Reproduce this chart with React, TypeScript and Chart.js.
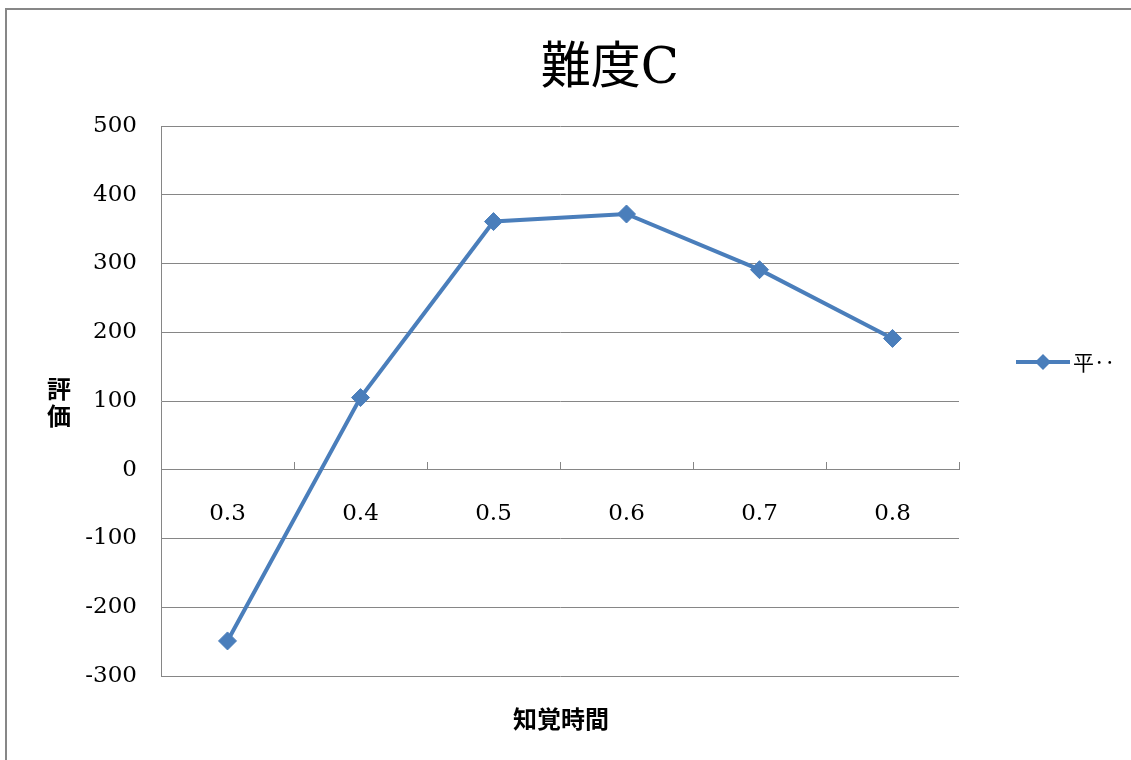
import React, { useEffect, useRef } from 'react';
import { Chart, registerables } from 'chart.js';

Chart.register(...registerables);

// ---- data ----
const TITLE = '難度C';
const X_TITLE = '知覚時間';
const Y_TITLE_CHARS = ['評', '価'];
const SERIES_LABEL = '平‥';
const categories = ['0.3', '0.4', '0.5', '0.6', '0.7', '0.8'];
const values = [-249, 105, 361, 372, 291, 191];
const Y_MIN = -300;
const Y_MAX = 500;
const Y_STEP = 100;

const LINE_COLOR = '#4A7EBB';
const GRID_COLOR = '#868686';
const SERIF = "'DejaVu Serif', 'Noto Sans CJK JP', serif";
const CJK = "'Noto Sans CJK JP', sans-serif";

const W = 1131;
const H = 760;

const decorPlugin = {
  id: 'decor',
  beforeDraw(chart: any) {
    const ctx = chart.ctx;
    ctx.save();
    ctx.fillStyle = '#ffffff';
    ctx.fillRect(0, 0, chart.width, chart.height);
    ctx.strokeStyle = '#878787';
    ctx.lineWidth = 2;
    ctx.strokeRect(6, 9, chart.width + 100, chart.height + 100);
    ctx.restore();
  },
  afterDraw(chart: any) {
    const ctx = chart.ctx;
    const area = chart.chartArea;
    ctx.save();
    // title
    ctx.fillStyle = '#000';
    ctx.textBaseline = 'middle';
    ctx.textAlign = 'center';
    ctx.font = `50px ${SERIF}`;
    ctx.fillText(TITLE, 610, 70);
    // x title
    ctx.font = `bold 24px ${CJK}`;
    ctx.fillText(X_TITLE, (area.left + area.right) / 2 + 1, 719);
    // y title (upright stacked)
    ctx.font = `bold 24px ${CJK}`;
    Y_TITLE_CHARS.forEach((c, i) => ctx.fillText(c, 59, 389 + i * 27));
    // legend
    const ds = chart.data.datasets[0];
    const ly = 362;
    ctx.strokeStyle = ds.borderColor;
    ctx.lineWidth = 4;
    ctx.beginPath();
    ctx.moveTo(1016, ly);
    ctx.lineTo(1070, ly);
    ctx.stroke();
    ctx.fillStyle = ds.pointBackgroundColor;
    ctx.beginPath();
    const r = 8;
    ctx.moveTo(1043, ly - r);
    ctx.lineTo(1043 + r, ly);
    ctx.lineTo(1043, ly + r);
    ctx.lineTo(1043 - r, ly);
    ctx.closePath();
    ctx.fill();
    ctx.fillStyle = '#000';
    ctx.textAlign = 'left';
    ctx.font = `21px ${CJK}`;
    ctx.fillText(ds.label, 1073, ly);
    ctx.restore();
  },
};

export default function App() {
  const ref = useRef<HTMLCanvasElement | null>(null);

  useEffect(() => {
    document.body.style.margin = '0';
    document.body.style.overflow = 'hidden';
    const canvas = ref.current;
    if (!canvas) return;
    const chart = new Chart(canvas, {
      type: 'line',
      data: {
        labels: categories,
        datasets: [
          {
            label: SERIES_LABEL,
            data: values,
            borderColor: LINE_COLOR,
            backgroundColor: LINE_COLOR,
            borderWidth: 4,
            tension: 0,
            pointStyle: 'rectRot',
            pointRadius: 9,
            pointBackgroundColor: LINE_COLOR,
            pointBorderColor: LINE_COLOR,
            pointBorderWidth: 1,
            clip: false as any,
          },
        ],
      },
      options: {
        responsive: false,
        animation: false,
        devicePixelRatio: 1,
        layout: { padding: { left: 60, top: 126, right: 172, bottom: 84 } },
        plugins: {
          legend: { display: false },
          title: { display: false },
          tooltip: { enabled: false },
        },
        scales: {
          x: {
            type: 'category',
            position: { y: 0 } as any,
            offset: true,
            grid: {
              display: true,
              offset: true,
              drawOnChartArea: false,
              drawTicks: true,
              tickLength: -8,
              color: GRID_COLOR,
              lineWidth: 1,
            },
            border: { display: true, color: GRID_COLOR, width: 1 },
            ticks: {
              color: '#000',
              font: { family: SERIF, size: 23 },
              padding: 38,
              maxRotation: 0,
              autoSkip: false,
            },
          },
          y: {
            type: 'linear',
            min: Y_MIN,
            max: Y_MAX,
            afterFit: (scale: any) => {
              scale.width = 101;
            },
            grid: { color: GRID_COLOR, lineWidth: 1, drawTicks: false },
            border: { display: true, color: GRID_COLOR, width: 1 },
            ticks: {
              stepSize: Y_STEP,
              color: '#000',
              font: { family: SERIF, size: 23 },
              padding: 24,
            },
          },
        },
      },
      plugins: [decorPlugin],
    });
    return () => chart.destroy();
  }, []);

  return <canvas ref={ref} width={W} height={H} style={{ display: 'block' }} />;
}
